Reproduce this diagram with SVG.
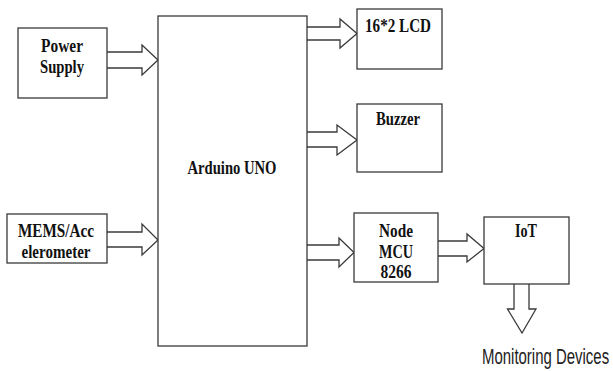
<svg xmlns="http://www.w3.org/2000/svg" width="613" height="371" viewBox="0 0 613 371">
<style>
.box{fill:#fff;stroke:#3a3a3a;stroke-width:1.3}
.arr{fill:#fff;stroke:#3a3a3a;stroke-width:1.3;stroke-linejoin:miter}
.lbl{font-family:"Liberation Serif","Times New Roman",serif;font-weight:bold;font-size:18px;fill:#111;text-anchor:middle}
.mon{font-family:"Liberation Sans",Arial,sans-serif;font-size:22px;fill:#222}
</style>
<rect width="613" height="371" fill="#fff"/>
<g id="connectors">
<path class="arr" d="M107,52 H142 V45 L158,60 L142,75 V68 H107"/>
<path class="arr" d="M107,232 H142 V224 L158,240 L142,255 V247 H107"/>
<path class="arr" d="M307,27 H340 V19 L357,33.5 L340,48 V40 H307"/>
<path class="arr" d="M307,132 H337 V125 L357,140 L337,155 V147 H307"/>
<path class="arr" d="M307,245 H339 V238 L354,252.5 L339,267 V260 H307"/>
<path class="arr" d="M438,241 H467 V234 L484,248.5 L467,262 V256 H438"/>
<path class="arr" d="M514,284 V309 H507.5 L522,333 L536,309 H529 V284"/>
</g>
<g id="power">
<rect class="box" x="18" y="28" width="89" height="70"/>
<text class="lbl" x="62" y="52" textLength="42" lengthAdjust="spacingAndGlyphs">Power</text>
<text class="lbl" x="62" y="73" textLength="44" lengthAdjust="spacingAndGlyphs">Supply</text>
</g>
<g id="mems">
<rect class="box" x="7" y="214" width="100" height="49"/>
<text class="lbl" x="56" y="237" textLength="76" lengthAdjust="spacingAndGlyphs">MEMS/Acc</text>
<text class="lbl" x="56" y="258" textLength="69" lengthAdjust="spacingAndGlyphs">elerometer</text>
</g>
<g id="arduino">
<rect class="box" x="158" y="16" width="149" height="330"/>
<text class="lbl" x="232" y="174" textLength="89" lengthAdjust="spacingAndGlyphs">Arduino UNO</text>
</g>
<g id="lcd">
<rect class="box" x="357" y="9" width="85" height="60"/>
<text class="lbl" x="398" y="32" textLength="66" lengthAdjust="spacingAndGlyphs">16*2 LCD</text>
</g>
<g id="buzzer">
<rect class="box" x="357" y="104" width="85" height="68"/>
<text class="lbl" x="398" y="125" textLength="44" lengthAdjust="spacingAndGlyphs">Buzzer</text>
</g>
<g id="nodemcu">
<rect class="box" x="354" y="213" width="84" height="69"/>
<text class="lbl" x="396" y="237" textLength="34" lengthAdjust="spacingAndGlyphs">Node</text>
<text class="lbl" x="396" y="258" textLength="34" lengthAdjust="spacingAndGlyphs">MCU</text>
<text class="lbl" x="396" y="278" textLength="31" lengthAdjust="spacingAndGlyphs">8266</text>
</g>
<g id="iot">
<rect class="box" x="484" y="217" width="85" height="67"/>
<text class="lbl" x="526" y="237" textLength="22" lengthAdjust="spacingAndGlyphs">IoT</text>
</g>
<g id="monitoring">
<text class="mon" transform="matrix(0.68 0 0 1 482 364)">Monitoring Devices</text>
</g>
</svg>
